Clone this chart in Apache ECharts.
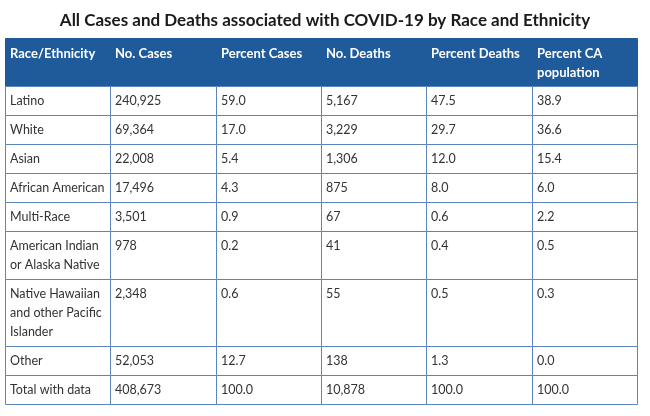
<!DOCTYPE html>
<html><head><meta charset="utf-8">
<script src="https://cdn.jsdelivr.net/npm/echarts@6/dist/echarts.min.js"></script>
<style>html,body{margin:0;padding:0;background:#fff;}#c{width:650px;height:416px;}</style>
</head><body><div id="c"></div>
<script>
const headers = ['Race/Ethnicity', 'No. Cases', 'Percent Cases', 'No. Deaths', 'Percent Deaths', 'Percent CA\npopulation'];
const categories = ['Latino', 'White', 'Asian', 'African American', 'Multi-Race', 'American Indian\nor Alaska Native', 'Native Hawaiian\nand other Pacific\nIslander', 'Other', 'Total with data'];
const cases = [240925, 69364, 22008, 17496, 3501, 978, 2348, 52053, 408673];
const pctCases = [59.0, 17.0, 5.4, 4.3, 0.9, 0.2, 0.6, 12.7, 100.0];
const deaths = [5167, 3229, 1306, 875, 67, 41, 55, 138, 10878];
const pctDeaths = [47.5, 29.7, 12.0, 8.0, 0.6, 0.4, 0.5, 1.3, 100.0];
const pctPop = [38.9, 36.6, 15.4, 6.0, 2.2, 0.5, 0.3, 0.0, 100.0];

const fmtInt = v => v.toLocaleString('en-US');
const fmtPct = v => v.toFixed(1);

// table cells: row 0 = header
const cells = [headers];
categories.forEach((c, i) => {
  cells.push([c, fmtInt(cases[i]), fmtPct(pctCases[i]), fmtInt(deaths[i]), fmtPct(pctDeaths[i]), fmtPct(pctPop[i])]);
});
const LINE = 19, PAD = 10;
const rowLines = cells.map(r => Math.max(...r.map(t => t.split('\n').length)));
const rowStart = [0];
rowLines.forEach((n, i) => rowStart.push(rowStart[i] + n + PAD / LINE));
const total = rowStart[rowStart.length - 1];

const data = [];
cells.forEach((r, ri) => r.forEach((t, ci) => data.push([ci, ri])));

const chart = echarts.init(document.getElementById('c'));
chart.setOption({
  animation: false,
  title: {
    text: 'All Cases and Deaths associated with COVID-19 by Race and Ethnicity',
    left: 'center', top: 7,
    textStyle: {fontFamily: 'Lato', fontWeight: 'bold', fontSize: 17, color: '#1a1a1a'}
  },
  grid: {left: 5, right: 13, top: 38, bottom: 12},
  xAxis: {type: 'value', min: 0, max: headers.length, show: false},
  yAxis: {type: 'value', min: 0, max: total, inverse: true, show: false},
  series: [{
    type: 'custom',
    data: data,
    renderItem: function (params, api) {
      const col = api.value(0), row = api.value(1);
      const p0 = api.coord([col, rowStart[row]]);
      const p1 = api.coord([col + 1, rowStart[row + 1]]);
      const isHead = row === 0;
      const x0 = Math.round(p0[0]) + 0.5, y0 = Math.round(p0[1]) + 0.5;
      const x1 = Math.round(p1[0]) + 0.5, y1 = Math.round(p1[1]) + 0.5;
      return {
        type: 'group',
        children: [{
          type: 'rect',
          shape: {x: x0, y: y0, width: x1 - x0, height: y1 - y0},
          style: {fill: isHead ? '#1f5a9a' : '#ffffff', stroke: isHead ? '#1f5a9a' : '#5a86bb', lineWidth: 1}
        }, {
          type: 'text',
          style: {
            text: cells[row][col],
            x: x0 + 4.5, y: y0 + (isHead ? 5.5 : 5),
            verticalAlign: 'top',
            lineHeight: LINE,
            fill: isHead ? '#ffffff' : '#333333',
            font: isHead ? 'bold 13px Lato' : '12.5px Lato'
          }
        }]
      };
    }
  }]
});
</script>
</body></html>
